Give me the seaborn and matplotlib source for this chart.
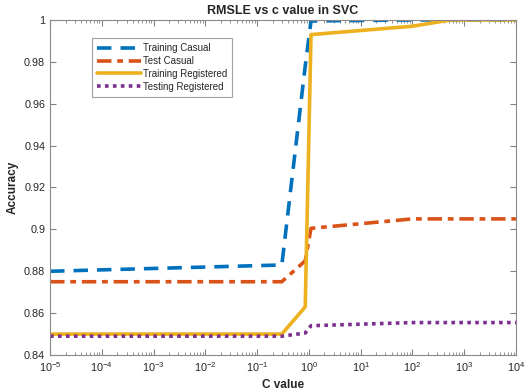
import numpy as np
import pandas as pd
import matplotlib
matplotlib.use("Agg")
import matplotlib.pyplot as plt
import matplotlib.ticker as mticker
import seaborn as sns

# C values and accuracies
c_values = [1e-5, 0.3, 0.85, 1.1, 100, 550, 1e4]
train_casual = [0.880, 0.883, 0.978, 0.9995, 1.0, 1.0, 1.0]
test_casual = [0.875, 0.875, 0.885, 0.9005, 0.905, 0.905, 0.905]
train_registered = [0.850, 0.850, 0.863, 0.993, 0.997, 1.0, 1.0]
test_registered = [0.849, 0.849, 0.8505, 0.854, 0.8555, 0.8555, 0.8555]

series_names = ["Training Casual", "Test Casual", "Training Registered", "Testing Registered"]
series_values = [train_casual, test_casual, train_registered, test_registered]
colors = ["#0072BD", "#D95319", "#EDB120", "#7E2F8E"]
styles = [(0, (4, 2.5)), (0, (4, 1.6, 1.6, 1.6)), "-", (0, (1, 1.2))]

sns.set_style("ticks")
plt.rcParams["font.family"] = ["Liberation Sans", "DejaVu Sans"]

fig = plt.figure(figsize=(5.27, 3.91), dpi=100)
ax = fig.add_axes([0.095, 0.092, 0.884, 0.857])

for name, vals, col, ls in zip(series_names, series_values, colors, styles):
    df = pd.DataFrame({"C": c_values, "acc": vals})
    sns.lineplot(data=df, x="C", y="acc", ax=ax, color=col, linestyle=ls,
                 linewidth=2.6, label=name)

ax.set_xscale("log")
ax.set_xlim(1e-5, 1e4)
ax.set_ylim(0.84, 1.0)
ax.set_yticks(np.arange(0.84, 1.001, 0.02))
ax.yaxis.set_major_formatter(mticker.FuncFormatter(lambda v, p: f"{v:g}"))
ax.xaxis.set_major_locator(mticker.LogLocator(base=10, numticks=20))
ax.xaxis.set_minor_locator(mticker.LogLocator(base=10, subs=np.arange(2, 10), numticks=20))

ax.tick_params(which="both", direction="in", top=True, right=True, colors="#808080",
               labelcolor="#262626", labelsize=7.8)
ax.tick_params(which="major", length=4)
ax.tick_params(which="minor", length=2)
for s in ax.spines.values():
    s.set_color("#8a8a8a")
    s.set_linewidth(0.8)

ax.set_xlabel("C value", fontsize=8.5, fontweight="bold", color="#262626")
ax.set_ylabel("Accuracy", fontsize=8.5, fontweight="bold", color="#262626")
ax.set_title("RMSLE vs c value in SVC", fontsize=9, fontweight="bold", pad=4)

leg = ax.legend(loc="upper left", bbox_to_anchor=(0.08, 0.96), fontsize=7,
                frameon=True, fancybox=False, handlelength=4.5, handletextpad=0.2,
                borderpad=0.5, labelspacing=0.3, edgecolor="#8a8a8a")
leg.get_frame().set_linewidth(0.8)

fig.savefig("out.png", dpi=100)
